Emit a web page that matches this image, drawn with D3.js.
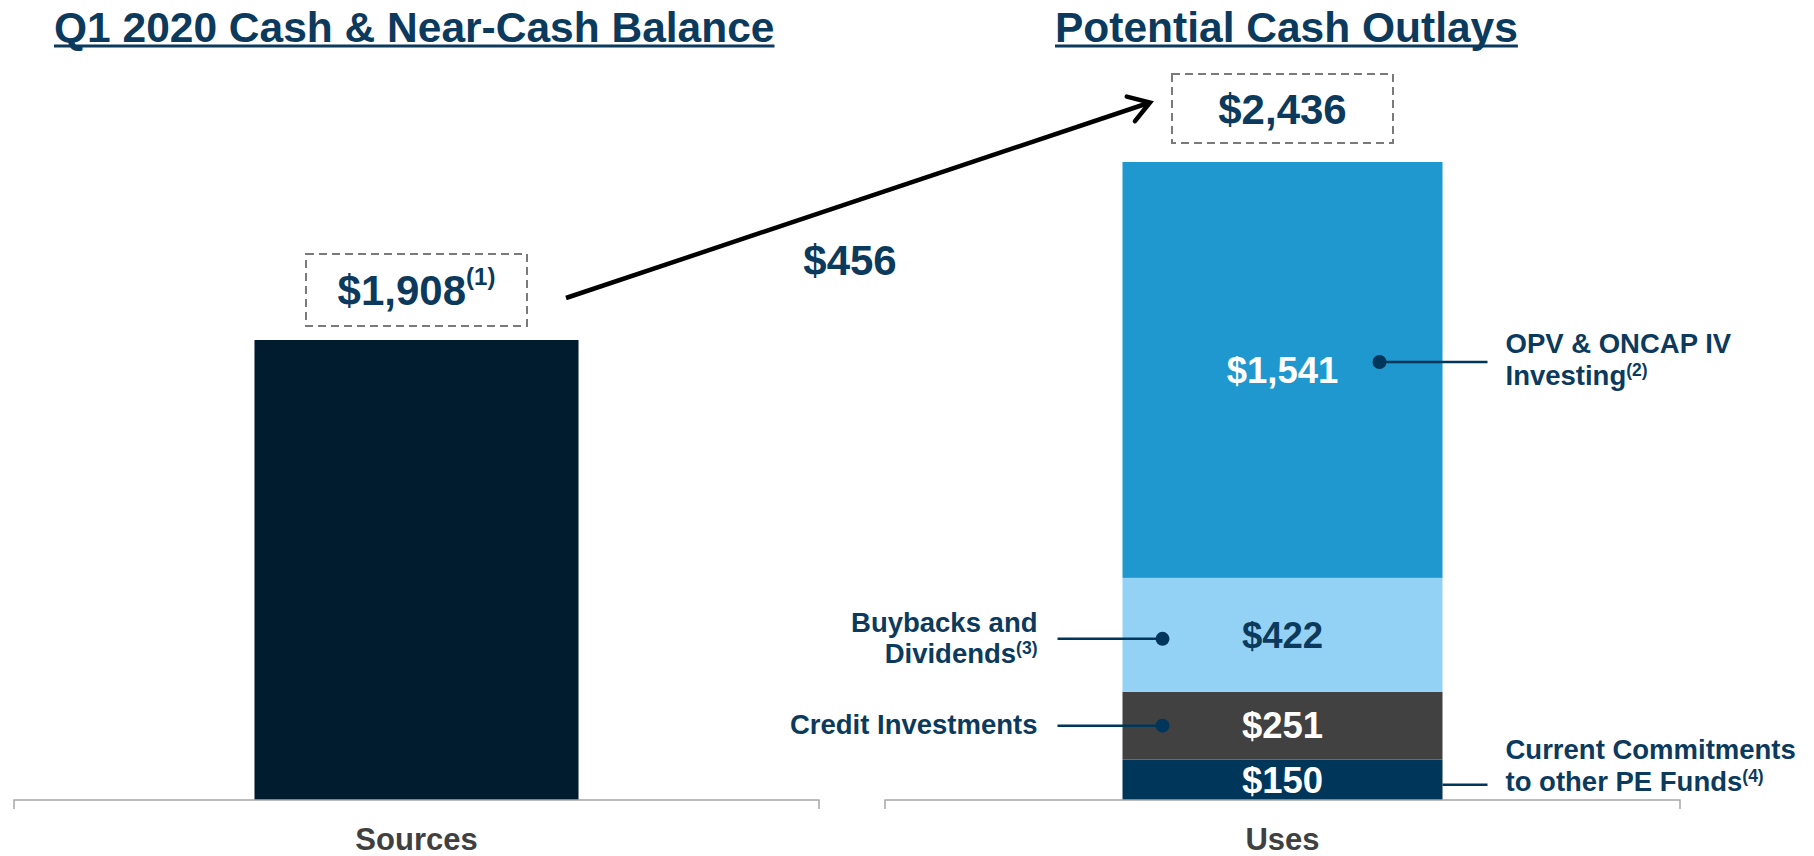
<!DOCTYPE html>
<html>
<head>
<meta charset="utf-8">
<script src="https://cdn.jsdelivr.net/npm/d3@7"></script>
<style>
  html, body { margin: 0; padding: 0; background: #fff; }
  svg { display: block; font-family: "Liberation Sans", Arial, sans-serif; font-weight: bold; }
</style>
</head>
<body>
<div id="chart"></div>
<script>
'use strict';

// Data
const sourceCategories = ['Sources'];
const sourceValues = [1908];
const sourceNote = '(1)';

const useCategories = ['Uses'];
const outlayKeys = ['commitments', 'credit', 'buybacks', 'opv'];
const outlayValues = [150, 251, 422, 1541];
const outlayLabels = ['$150', '$251', '$422', '$1,541'];
const outlayNames = [
    ['Current Commitments', 'to other PE Funds'],
    ['Credit Investments'],
    ['Buybacks and', 'Dividends'],
    ['OPV & ONCAP IV', 'Investing']
];
const outlayNotes = ['(4)', '', '(3)', '(2)'];
const outlayTotalLabel = '$2,436';
const gapLabel = '$456';
const titles = ['Q1 2020 Cash & Near-Cash Balance', 'Potential Cash Outlays'];

// Styles / layout
const W = 1814, H = 856;
const navy = '#0c3a5d';
const outlayColors = ['#003659', '#414142', '#93d2f4', '#1e98ce'];
const outlayTextColors = ['#fff', '#fff', navy, '#fff'];
// side, dot, line offset from segment middle, text baseline offsets
const annotLayout = [
    {side: 'right', dot: false, dy: 5, lines: [-21, 11]},
    {side: 'left', dot: true, dy: 0, lines: [8]},
    {side: 'left', dot: true, dy: 4, lines: [-3, 28]},
    {side: 'right', dot: true, dy: -8, lines: [-17, 15]}
];

const svg = d3.select('#chart')
    .append('svg')
    .attr('width', W)
    .attr('height', H);

const baseY = 800;

const xLeft = d3.scaleBand().domain(sourceCategories).range([14, 819]).padding(0.426);
const xRight = d3.scaleBand().domain(useCategories).range([885, 1680]).padding(0.426);
const yLeft = d3.scaleLinear().domain([0, d3.max(sourceValues)]).range([baseY, 340]);
const yRight = d3.scaleLinear().domain([0, d3.sum(outlayValues)]).range([baseY, 162]);

// Titles with a thick underline
const titleX = [54, 1055];
titles.forEach((t, i) => {
    const txt = svg.append('text')
        .attr('x', titleX[i])
        .attr('y', 42)
        .attr('font-size', 42.5)
        .attr('fill', navy)
        .text(t);
    const bb = txt.node().getBBox();
    svg.append('line')
        .attr('x1', bb.x).attr('x2', bb.x + bb.width)
        .attr('y1', 46).attr('y2', 46)
        .attr('stroke', navy).attr('stroke-width', 3);
});

// Axis baselines with end ticks
function drawBase(scale, label) {
    const [a, b] = scale.range();
    svg.append('path')
        .attr('d', `M${a},${baseY + 9}V${baseY}H${b}V${baseY + 9}`)
        .attr('fill', 'none')
        .attr('stroke', '#a6a6a6')
        .attr('stroke-width', 1.5);
    svg.append('text')
        .attr('x', scale(label) + scale.bandwidth() / 2)
        .attr('y', 850)
        .attr('text-anchor', 'middle')
        .attr('font-size', 31)
        .attr('fill', '#404040')
        .text(label);
}

// Left bar
svg.append('g')
    .selectAll('rect')
    .data(sourceValues)
    .join('rect')
    .attr('x', (d, i) => xLeft(sourceCategories[i]))
    .attr('width', xLeft.bandwidth())
    .attr('y', d => yLeft(d))
    .attr('height', d => baseY - yLeft(d))
    .attr('fill', '#021c2f');

// Right stacked bar
const stackRow = {};
outlayKeys.forEach((k, i) => stackRow[k] = outlayValues[i]);
const series = d3.stack().keys(outlayKeys)([stackRow]);

svg.append('g')
    .selectAll('rect')
    .data(series)
    .join('rect')
    .attr('x', xRight(useCategories[0]))
    .attr('width', xRight.bandwidth())
    .attr('y', d => yRight(d[0][1]))
    .attr('height', d => yRight(d[0][0]) - yRight(d[0][1]))
    .attr('fill', (d, i) => outlayColors[i]);

const rx0 = xRight(useCategories[0]);
const rx1 = rx0 + xRight.bandwidth();
const rcx = rx0 + xRight.bandwidth() / 2;

svg.append('g')
    .selectAll('text')
    .data(series)
    .join('text')
    .attr('x', rcx)
    .attr('y', d => (yRight(d[0][0]) + yRight(d[0][1])) / 2)
    .attr('dy', '0.35em')
    .attr('text-anchor', 'middle')
    .attr('font-size', 36.5)
    .attr('fill', (d, i) => outlayTextColors[i])
    .text((d, i) => outlayLabels[i]);

// Annotations for each segment
series.forEach((s, i) => {
    const lay = annotLayout[i];
    const mid = (yRight(s[0][0]) + yRight(s[0][1])) / 2;
    const ly = mid + lay.dy;
    let dotX, endX, textX, anchor;
    if (lay.side === 'left') {
        dotX = rx0 + 40; endX = rx0 - 65; textX = rx0 - 85; anchor = 'end';
    } else {
        dotX = lay.dot ? rx1 - 63 : rx1; endX = rx1 + 45; textX = rx1 + 63; anchor = 'start';
    }
    svg.append('line')
        .attr('x1', dotX).attr('x2', endX)
        .attr('y1', ly).attr('y2', ly)
        .attr('stroke', '#003659').attr('stroke-width', 2.5);
    if (lay.dot) {
        svg.append('circle')
            .attr('cx', dotX).attr('cy', ly).attr('r', 7)
            .attr('fill', '#003659');
    }
    outlayNames[i].forEach((line, j) => {
        const t = svg.append('text')
            .attr('x', textX)
            .attr('y', mid + lay.lines[j])
            .attr('text-anchor', anchor)
            .attr('font-size', 27.5)
            .attr('fill', navy)
            .text(line);
        if (j === outlayNames[i].length - 1 && outlayNotes[i]) {
            t.append('tspan')
                .attr('font-size', 17.5)
                .attr('dy', -9)
                .text(outlayNotes[i]);
        }
    });
});

// Dashed total boxes
function totalBox(cx, bottom, w, h, label, note) {
    svg.append('rect')
        .attr('x', cx - w / 2).attr('y', bottom - h)
        .attr('width', w).attr('height', h)
        .attr('fill', 'none')
        .attr('stroke', '#7a7a7a')
        .attr('stroke-width', 2)
        .attr('stroke-dasharray', '8,5');
    const t = svg.append('text')
        .attr('x', cx)
        .attr('y', bottom - h / 2)
        .attr('dy', '0.36em')
        .attr('text-anchor', 'middle')
        .attr('font-size', 42)
        .attr('fill', navy)
        .text(label);
    if (note) {
        t.append('tspan')
            .attr('font-size', 24)
            .attr('dy', -20)
            .text(note);
    }
    return {x0: cx - w / 2, x1: cx + w / 2, y0: bottom - h, y1: bottom};
}

const lcx = xLeft(sourceCategories[0]) + xLeft.bandwidth() / 2;
const boxL = totalBox(lcx, yLeft(sourceValues[0]) - 14, 221, 72,
    '$' + d3.format(',')(sourceValues[0]), sourceNote);
const boxR = totalBox(rcx, yRight(d3.sum(outlayValues)) - 19, 221, 69, outlayTotalLabel);

// Arrow between the totals
const a0 = [boxL.x1 + 39, (boxL.y0 + boxL.y1) / 2 + 8];
const a1 = [boxR.x0 - 22, (boxR.y0 + boxR.y1) / 2 - 6];
svg.append('line')
    .attr('x1', a0[0]).attr('y1', a0[1])
    .attr('x2', a1[0]).attr('y2', a1[1])
    .attr('stroke', '#000').attr('stroke-width', 4.5);
const ang = Math.atan2(a1[1] - a0[1], a1[0] - a0[0]);
const headLen = 24, headAng = Math.PI / 5.5;
const h1 = [a1[0] - headLen * Math.cos(ang - headAng), a1[1] - headLen * Math.sin(ang - headAng)];
const h2 = [a1[0] - headLen * Math.cos(ang + headAng), a1[1] - headLen * Math.sin(ang + headAng)];
svg.append('path')
    .attr('d', `M${h1}L${a1}L${h2}`)
    .attr('fill', 'none')
    .attr('stroke', '#000')
    .attr('stroke-width', 4.5)
    .attr('stroke-linejoin', 'miter')
    .attr('stroke-linecap', 'round');

svg.append('text')
    .attr('x', (a0[0] + a1[0]) / 2 - 8)
    .attr('y', (a0[1] + a1[1]) / 2 + 75)
    .attr('text-anchor', 'middle')
    .attr('font-size', 42)
    .attr('fill', navy)
    .text(gapLabel);

drawBase(xLeft, sourceCategories[0]);
drawBase(xRight, useCategories[0]);
</script>
</body>
</html>
